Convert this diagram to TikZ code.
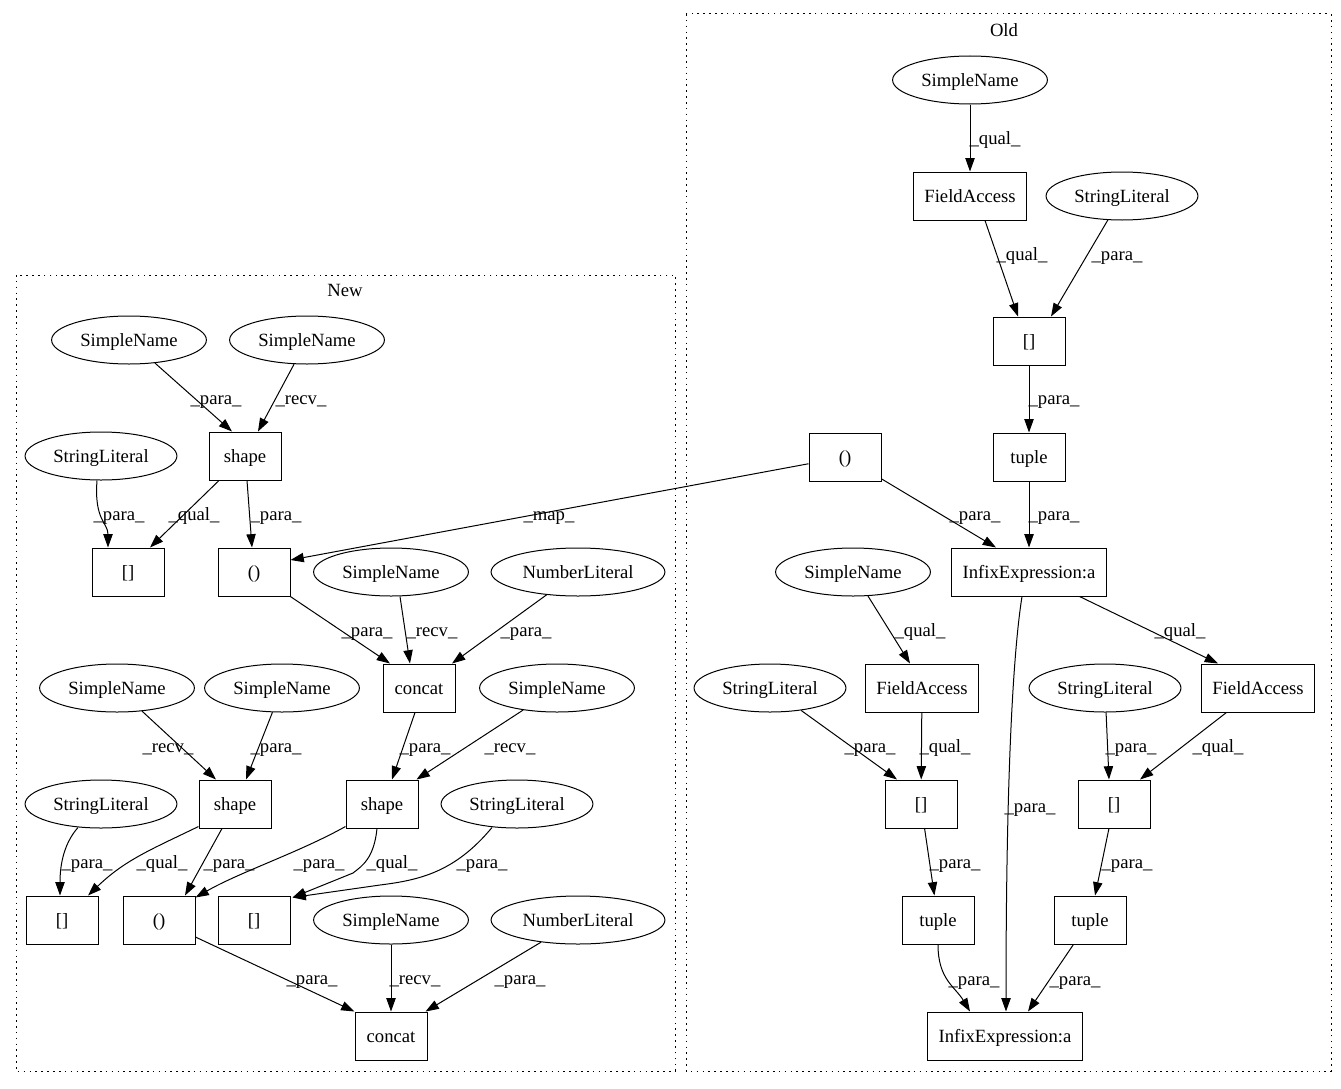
\documentclass[tikz,border=0pt]{standalone}
\usepackage{fontspec}
\setmainfont{Liberation Serif}
\usetikzlibrary{arrows.meta,shapes.geometric,calc}
\tikzset{
  gbox/.style={draw, rectangle, line width=0.75pt, minimum width=54pt, minimum height=36pt, inner xsep=8pt, inner ysep=0pt, text height=12.5pt, text depth=2.5pt, font=\fontsize{14pt}{16pt}\selectfont},
  gell/.style={draw, ellipse, line width=0.75pt, minimum height=36pt, inner xsep=4.5pt, inner ysep=0pt, text height=12.5pt, text depth=2.5pt, font=\fontsize{14pt}{16pt}\selectfont},
  gedge/.style={line width=0.75pt, -{Triangle[length=10pt,width=7pt]}},
  glab/.style={inner sep=0pt, text height=12.5pt, text depth=2.5pt, font=\fontsize{14pt}{16pt}\selectfont},
  gclus/.style={line width=0.75pt, dash pattern=on 1.2pt off 3.2pt},
}
\begin{document}
\begin{tikzpicture}[x=0.75pt,y=-0.75pt]
\useasboundingbox (0,0) rectangle (1341,1088);
% clusters
\draw[gclus] (686,14) rectangle (1331,1071);
\node[glab] (oldlab) at (1004,30) {Old};
\draw[gclus] (16,275) rectangle (675,1071);
\node[glab] (newlab) at (345,290) {New};

% Old nodes
\node[gell] (osn1) at (970,80) {SimpleName};
\node[gbox] (ofa1) at (970,196) {FieldAccess};
\node[gell] (osl1) at (1122,196) {StringLiteral};
\node[gbox] (ob1) at (1029,341) {[]};
\node[gbox] (ot1) at (1029,457) {tuple};
\node[gbox] (op) at (845,457) {()};
\node[gbox] (oi1) at (1029,572) {InfixExpression:a};
\node[gell] (osn2) at (853,572) {SimpleName};
\node[gbox] (ofa2) at (922,688) {FieldAccess};
\node[gell] (osl2) at (770,688) {StringLiteral};
\node[gell] (osl3) at (1105,688) {StringLiteral};
\node[gbox] (ofa3) at (1258,688) {FieldAccess};
\node[gbox] (ob2) at (921,804) {[]};
\node[gbox] (ob3) at (1114,804) {[]};
\node[gbox] (ot2) at (938,920) {tuple};
\node[gbox] (ot3) at (1090,920) {tuple};
\node[gbox] (oi2) at (1005,1036) {InfixExpression:a};

% New nodes
\node[gell] (nsn1) at (129,340) {SimpleName};
\node[gell] (nsn2) at (307,340) {SimpleName};
\node[gell] (nsl1) at (101,456) {StringLiteral};
\node[gbox] (nsh1) at (245,456) {shape};
\node[gbox] (nb1) at (128,572) {[]};
\node[gbox] (np) at (254,572) {()};
\node[gell] (nsn3) at (391,572) {SimpleName};
\node[gell] (nnl1) at (578,572) {NumberLiteral};
\node[gbox] (ncc1) at (419,688) {concat};
\node[gell] (nsn4) at (117,688) {SimpleName};
\node[gell] (nsn5) at (282,688) {SimpleName};
\node[gell] (nsn6) at (557,688) {SimpleName};
\node[gell] (nsl2) at (101,804) {StringLiteral};
\node[gbox] (nsh2) at (235,804) {shape};
\node[gbox] (nsh3) at (382,804) {shape};
\node[gell] (nsl3) at (517,804) {StringLiteral};
\node[gbox] (nb2) at (62,920) {[]};
\node[gbox] (np2) at (159,920) {()};
\node[gbox] (nb3) at (254,920) {[]};
\node[gell] (nsn7) at (391,920) {SimpleName};
\node[gell] (nnl2) at (578,920) {NumberLiteral};
\node[gbox] (ncc2) at (391,1036) {concat};

% Old edges
\draw[gedge] (osn1) -- (ofa1);
\draw[gedge] ($(ofa1.south)+(15,0)$) -- ($(ob1.north)+(-11,0)$);
\draw[gedge] (osl1) -- ($(ob1.north)+(22,0)$);
\draw[gedge] (ob1) -- (ot1);
\draw[gedge] (ot1) -- (oi1);
\draw[gedge] (op) -- ($(oi1.north)+(-33,0)$);
\draw[gedge] (op) -- ($(np.east)+(0,-12)$);
\draw[gedge] (osn2) -- ($(ofa2.north)+(-12,0)$);
\draw[gedge] (oi1) -- ($(ofa3.north)+(-40,0)$);
\draw[gedge] ($(oi1.south)+(-7,0)$) .. controls +(-8,50) and +(0,-250) .. ($(oi2.north)+(1,0)$);
\draw[gedge] (osl2) -- ($(ob2.north)+(-24,0)$);
\draw[gedge] (ofa2) -- (ob2);
\draw[gedge] (osl3) -- ($(ob3.north)+(-5,0)$);
\draw[gedge] (ofa3) -- ($(ob3.north)+(26,0)$);
\draw[gedge] (ob2) -- (ot2);
\draw[gedge] (ob3) -- (ot3);
\draw[gedge] (ot2.south) .. controls +(0,35) and +(-15,-25) .. ($(oi2.north)+(-35,0)$);
\draw[gedge] (ot3) -- ($(oi2.north)+(23,0)$);

% New edges
\draw[gedge] (nsn1) -- ($(nsh1.north)+(-13,0)$);
\draw[gedge] (nsn2) -- ($(nsh1.north)+(13,0)$);
\draw[gedge] ($(nsl1.south)+(-4,0)$) .. controls +(-3,40) and +(0,-25) .. ($(nb1.north)+(-20,0)$);
\draw[gedge] ($(nsh1.south)+(-26,0)$) -- ($(nb1.north)+(22,0)$);
\draw[gedge] ($(nsh1.south)+(2,0)$) -- ($(np.north)+(-2,0)$);
\draw[gedge] (np) -- ($(ncc1.north)+(-29,0)$);
\draw[gedge] ($(nsn3.south)+(9,0)$) -- ($(ncc1.north)+(-9,0)$);
\draw[gedge] (nnl1) -- ($(ncc1.north)+(33,0)$);
\draw[gedge] (nsn4) -- ($(nsh2.north)+(-19,0)$);
\draw[gedge] (nsn5) -- ($(nsh2.north)+(11,0)$);
\draw[gedge] ($(ncc1.south)+(-4,0)$) -- ($(nsh3.north)+(10,0)$);
\draw[gedge] (nsn6) -- ($(nsh3.north east)+(-2,0)$);
\draw[gedge] ($(nsl2.south)+(-23,-1)$) .. controls +(-16,18) and +(0,-26) .. ($(nb2.north)+(-2,0)$);
\draw[gedge] ($(nsh2.south west)+(0,-2)$) .. controls (150,850) and (125,860) .. ($(nb2.north)+(26,0)$);
\draw[gedge] ($(nsh2.south)+(-13,0)$) -- ($(np2.north)+(26,0)$);
\draw[gedge] ($(nsh3.south west)+(0,-2)$) .. controls (300,852) and (240,872) .. ($(np2.north east)+(0,2)$);
\draw[gedge] ($(nsh3.south)+(-5,0)$) .. controls +(-3,30) and (362,866) .. (353,873) -- ($(nb3.north east)+(2,2)$);
\draw[gedge] ($(nsl3.south)+(-25,-1)$) .. controls (455,872) and (420,880) .. (380,885) -- ($(nb3.north east)+(2,2)$);
\draw[gedge] (np2) -- (ncc2.north west);
\draw[gedge] (nsn7) -- (ncc2);
\draw[gedge] (nnl2) -- ($(ncc2.north east)+(-2,0)$);

% Old labels
\node[glab] (l1) at (995,138) {\_qual\_};
\node[glab] (l2) at (1022,254) {\_qual\_};
\node[glab] (l3) at (1117,254) {\_para\_};
\node[glab] (l4) at (1054,398) {\_para\_};
\node[glab] (l5) at (975,514) {\_para\_};
\node[glab] (l6) at (1054,514) {\_para\_};
\node[glab] (l7) at (549,514) {\_map\_};
\node[glab] (l8) at (920,630) {\_qual\_};
\node[glab] (l9) at (1180,630) {\_qual\_};
\node[glab] (l10) at (1030,806) {\_para\_};
\node[glab] (l11) at (870,746) {\_para\_};
\node[glab] (l12) at (945,746) {\_qual\_};
\node[glab] (l13) at (1131,746) {\_para\_};
\node[glab] (l14) at (1218,746) {\_qual\_};
\node[glab] (l15) at (955,862) {\_para\_};
\node[glab] (l16) at (1127,862) {\_para\_};
\node[glab] (l17) at (974,979) {\_para\_};
\node[glab] (l18) at (1075,979) {\_para\_};

% New labels
\node[glab] (m1) at (216,398) {\_para\_};
\node[glab] (m2) at (301,398) {\_recv\_};
\node[glab] (m3) at (119,514) {\_para\_};
\node[glab] (m4) at (194,514) {\_qual\_};
\node[glab] (m5) at (276,514) {\_para\_};
\node[glab] (m6) at (367,630) {\_para\_};
\node[glab] (m7) at (432,630) {\_recv\_};
\node[glab] (m8) at (526,630) {\_para\_};
\node[glab] (m9) at (168,746) {\_recv\_};
\node[glab] (m10) at (276,746) {\_para\_};
\node[glab] (m11) at (425,746) {\_para\_};
\node[glab] (m12) at (510,746) {\_recv\_};
\node[glab] (m13) at (87,862) {\_para\_};
\node[glab] (m14) at (162,862) {\_qual\_};
\node[glab] (m15) at (229,862) {\_para\_};
\node[glab] (m16) at (319,862) {\_para\_};
\node[glab] (m17) at (392,862) {\_qual\_};
\node[glab] (m18) at (482,862) {\_para\_};
\node[glab] (m19) at (312,978) {\_para\_};
\node[glab] (m20) at (415,978) {\_recv\_};
\node[glab] (m21) at (520,978) {\_para\_};
\end{tikzpicture}
\end{document}
